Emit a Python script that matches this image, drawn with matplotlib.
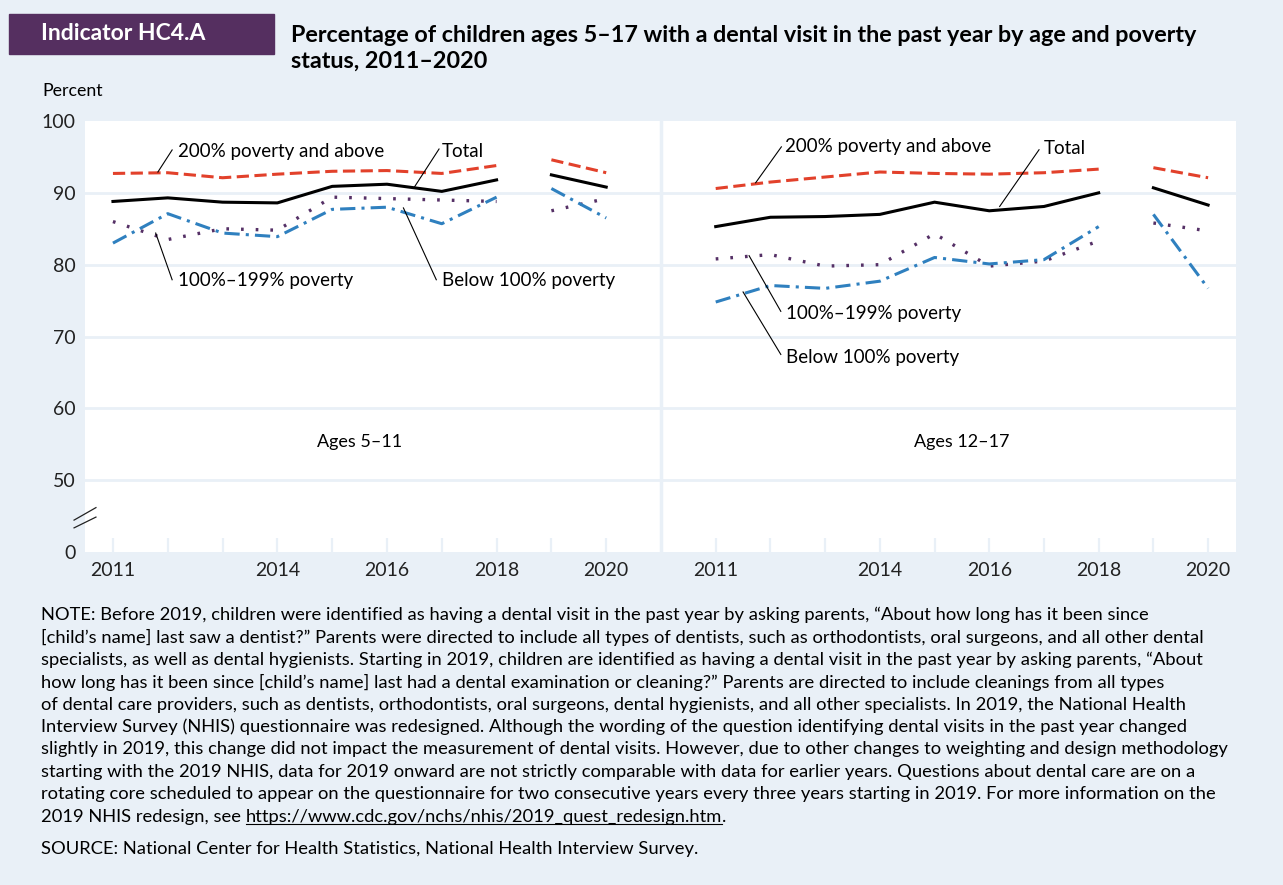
import matplotlib.pyplot as plt
from matplotlib.patches import Rectangle

plt.rcParams['font.family'] = ['Lato', 'DejaVu Sans']

years = [2011, 2012, 2013, 2014, 2015, 2016, 2017, 2018, 2019, 2020]
tick_labels = ['2011', '', '', '2014', '', '2016', '', '2018', '', '2020']

# ages 5-11
young_total = [88.8, 89.3, 88.7, 88.6, 90.9, 91.2, 90.2, 91.8, 92.5, 90.8]
young_high = [92.7, 92.8, 92.1, 92.6, 93.0, 93.1, 92.7, 93.8, 94.6, 92.8]
young_mid = [86.0, 83.5, 85.0, 84.8, 89.4, 89.2, 89.0, 88.8, 87.5, 89.2]
young_poor = [83.0, 87.1, 84.4, 83.9, 87.7, 88.0, 85.7, 89.4, 90.6, 86.5]

# ages 12-17
teen_total = [85.3, 86.6, 86.7, 87.0, 88.7, 87.5, 88.1, 90.0, 90.7, 88.3]
teen_high = [90.6, 91.5, 92.2, 92.9, 92.7, 92.6, 92.8, 93.3, 93.5, 92.1]
teen_mid = [80.8, 81.4, 79.8, 80.0, 84.3, 79.8, 80.5, 83.3, 85.8, 84.7]
teen_poor = [74.8, 77.1, 76.7, 77.7, 81.0, 80.1, 80.7, 85.3, 87.0, 76.7]

BG = '#e9f0f7'
RED = '#e2412b'
BLUE = '#2f80bf'
PURPLE = '#553066'

styles = {
    'high': dict(color=RED, lw=2.2, dashes=(4, 1.8)),
    'total': dict(color='black', lw=2.2),
    'mid': dict(color=PURPLE, lw=2.4, dashes=(0.8, 3.6)),
    'poor': dict(color=BLUE, lw=2.2, dashes=(5, 2, 1, 2)),
}

fig = plt.figure(figsize=(12.83, 8.85), dpi=100, facecolor=BG)
ax1 = fig.add_axes([85 / 1283, 1 - 552 / 885, 576 / 1283, 431 / 885])
ax2 = fig.add_axes([661 / 1283, 1 - 552 / 885, 575 / 1283, 431 / 885])


def draw_panel(ax, total, high, mid, poor, label):
    ax.set_facecolor('white')
    for name, vals in [('high', high), ('mid', mid), ('poor', poor), ('total', total)]:
        ax.plot(years[:8], vals[:8], **styles[name])
        ax.plot(years[8:], vals[8:], **styles[name])
    ax.set_ylim(40, 100)
    ax.set_yticks([40, 50, 60, 70, 80, 90, 100])
    ax.set_xticks(years)
    ax.set_xticklabels(tick_labels)
    ax.tick_params(axis='x', direction='in', length=10, width=1.6, color=BG,
                   pad=7, labelsize=14, labelcolor='#222222')
    ax.tick_params(axis='y', length=0, pad=7, labelsize=14, labelcolor='#222222')
    for y in [50, 60, 70, 80, 90]:
        ax.axhline(y, color=BG, lw=2, zorder=0.5)
    for s in ax.spines.values():
        s.set_visible(False)
    ax.text(2015.5, 55.3, label, ha='center', va='center', fontsize=13)


draw_panel(ax1, young_total, young_high, young_mid, young_poor, 'Ages 5–11')
draw_panel(ax2, teen_total, teen_high, teen_mid, teen_poor, 'Ages 12–17')

ax1.set_xlim(2010.49, 2021.0)
ax2.set_xlim(2010.0, 2020.51)
ax1.set_yticklabels(['0', '50', '60', '70', '80', '90', '100'])
ax2.set_yticklabels([])
ax2.spines['left'].set_visible(True)
ax2.spines['left'].set_color(BG)
ax2.spines['left'].set_linewidth(2.5)

# series labels with leader lines
ann_fs = 13.5
left_notes = [
    ('200% poverty and above', (2012.19, 95.8), [(2012.08, 95.97), (2011.82, 92.9)]),
    ('Total', (2017.0, 95.8), [(2016.95, 96.1), (2016.5, 90.8)]),
    ('100%–199% poverty', (2012.19, 77.8), [(2012.08, 77.9), (2011.78, 84.4)]),
    ('Below 100% poverty', (2017.0, 77.8), [(2016.9, 77.9), (2016.3, 87.9)]),
]
right_notes = [
    ('200% poverty and above', (2012.26, 96.4), [(2012.2, 96.4), (2011.73, 91.4)]),
    ('Total', (2017.0, 96.2), [(2016.91, 96.0), (2016.19, 88.1)]),
    ('100%–199% poverty', (2012.28, 73.2), [(2012.19, 73.5), (2011.61, 81.25)]),
    ('Below 100% poverty', (2012.28, 67.1), [(2012.19, 67.5), (2011.5, 76.2)]),
]
for ax, notes in [(ax1, left_notes), (ax2, right_notes)]:
    for txt, pos, line in notes:
        ax.text(pos[0], pos[1], txt, ha='left', va='center', fontsize=ann_fs)
        ax.plot([line[0][0], line[1][0]], [line[0][1], line[1][1]], color='black', lw=0.8)

# axis break marks
for ya, yb in [(0.056, 0.081), (0.074, 0.103)]:
    ax1.plot([-0.019, 0.019], [ya, yb], transform=ax1.transAxes,
             color='#222222', lw=0.9, clip_on=False)

# header
fig.patches.append(Rectangle((9 / 1283, 1 - 54 / 885), 265 / 1283, 40 / 885,
                             transform=fig.transFigure, color='#552f60', zorder=0))
fig.text(41 / 1283, 1 - 33 / 885, 'Indicator HC4.A', color='white', fontsize=16.5,
         fontweight='bold', va='center')
title_fs = 16.8
fig.text(291 / 1283, 1 - 35 / 885,
         'Percentage of children ages 5–17 with a dental visit in the past year by age and poverty',
         fontsize=title_fs, fontweight='bold', va='center')
fig.text(291 / 1283, 1 - 61 / 885, 'status, 2011–2020', fontsize=title_fs, fontweight='bold', va='center')
fig.text(42 / 1283, 1 - 91 / 885, 'Percent', fontsize=12.8, va='center')

note_lines = [
    'NOTE: Before 2019, children were identified as having a dental visit in the past year by asking parents, “About how long has it been since',
    '[child’s name] last saw a dentist?” Parents were directed to include all types of dentists, such as orthodontists, oral surgeons, and all other dental',
    'specialists, as well as dental hygienists. Starting in 2019, children are identified as having a dental visit in the past year by asking parents, “About',
    'how long has it been since [child’s name] last had a dental examination or cleaning?” Parents are directed to include cleanings from all types',
    'of dental care providers, such as dentists, orthodontists, oral surgeons, dental hygienists, and all other specialists. In 2019, the National Health',
    'Interview Survey (NHIS) questionnaire was redesigned. Although the wording of the question identifying dental visits in the past year changed',
    'slightly in 2019, this change did not impact the measurement of dental visits. However, due to other changes to weighting and design methodology',
    'starting with the 2019 NHIS, data for 2019 onward are not strictly comparable with data for earlier years. Questions about dental care are on a',
    'rotating core scheduled to appear on the questionnaire for two consecutive years every three years starting in 2019. For more information on the',
]
note_fs = 13.25
y0 = 615
for i, line in enumerate(note_lines):
    fig.text(41 / 1283, 1 - (y0 + i * 22.4) / 885, line, fontsize=note_fs, va='center')

ylast = 1 - (y0 + 9 * 22.4) / 885
pre = fig.text(41 / 1283, ylast, '2019 NHIS redesign, see ', fontsize=note_fs, va='center')
fig.canvas.draw()
r = fig.canvas.get_renderer()
bb = pre.get_window_extent(r)
url = fig.text(bb.x1 / 1283, ylast, 'https://www.cdc.gov/nchs/nhis/2019_quest_redesign.htm',
               fontsize=note_fs, va='center')
fig.canvas.draw()
ub = url.get_window_extent(r)
fig.text(ub.x1 / 1283, ylast, '.', fontsize=note_fs, va='center')
fig.add_artist(plt.Line2D([ub.x0 / 1283, ub.x1 / 1283], [(ub.y0 + 1) / 885] * 2,
                          color='black', lw=0.8))

fig.text(41 / 1283, 1 - 849 / 885,
         'SOURCE: National Center for Health Statistics, National Health Interview Survey.',
         fontsize=note_fs, va='center')

fig.savefig('out.png', dpi=100, facecolor=BG)
